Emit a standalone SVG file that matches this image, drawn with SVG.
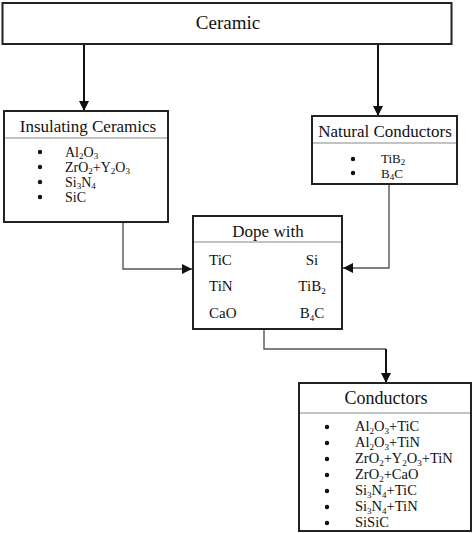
<svg xmlns="http://www.w3.org/2000/svg" width="474" height="533" viewBox="0 0 474 533">
<defs>
<marker id="arr" markerUnits="userSpaceOnUse" markerWidth="11" markerHeight="10" refX="10" refY="5" orient="auto">
<path d="M0,0 L10,5 L0,10 z" fill="#111"/>
</marker>
<style>
.box{fill:#fff;stroke:#222;stroke-width:2}
.div{stroke:#888;stroke-width:1.2}
.t{font-family:"Liberation Serif","Times New Roman",serif;fill:#111}
.title{font-size:17px;text-anchor:middle}
.item{font-size:14.5px}
.sub{font-size:9px}
.bul{fill:#111}
.dark{fill:none;stroke:#111;stroke-width:2}
.gray{fill:none;stroke:#555;stroke-width:1.4}
</style>
</defs>
<rect width="474" height="533" fill="#fff"/>
<g id="connectors">
<line class="dark" x1="84" y1="44" x2="84" y2="111" marker-end="url(#arr)"/>
<line class="dark" x1="378" y1="44" x2="378" y2="116" marker-end="url(#arr)"/>
<polyline class="gray" points="123,222 123,269 192,269" marker-end="url(#arr)"/>
<polyline class="gray" points="389,184 389,268 343,268" marker-end="url(#arr)"/>
<polyline class="gray" points="264,329 264,349 386,349"/>
<line class="dark" x1="386" y1="349" x2="386" y2="383" marker-end="url(#arr)"/>
</g>
<g id="ceramic">
<rect class="box" x="2.5" y="3" width="449" height="41"/>
<text class="t title" x="228" y="29" style="font-size:19px">Ceramic</text>
</g>
<g id="insulating">
<rect class="box" x="4" y="111" width="164" height="111"/>
<line class="div" x1="5" y1="138" x2="167" y2="138"/>
<text class="t title" x="88" y="132">Insulating Ceramics</text>
<g class="bul"><circle cx="40" cy="152" r="2.2"/><circle cx="40" cy="167" r="2.2"/><circle cx="40" cy="182" r="2.2"/><circle cx="40" cy="197" r="2.2"/></g>
<g class="t item" style="font-size:14px">
<text x="65" y="156.5">Al<tspan class="sub" dy="2">2</tspan><tspan dy="-2">O</tspan><tspan class="sub" dy="2">3</tspan></text>
<text x="65" y="171.5">ZrO<tspan class="sub" dy="2">2</tspan><tspan dy="-2">+Y</tspan><tspan class="sub" dy="2">2</tspan><tspan dy="-2">O</tspan><tspan class="sub" dy="2">3</tspan></text>
<text x="65" y="186.5">Si<tspan class="sub" dy="2">3</tspan><tspan dy="-2">N</tspan><tspan class="sub" dy="2">4</tspan></text>
<text x="65" y="201.5">SiC</text>
</g>
</g>
<g id="natural">
<rect class="box" x="312" y="116" width="145" height="68"/>
<line class="div" x1="313" y1="143" x2="456" y2="143"/>
<text class="t title" x="385" y="137">Natural Conductors</text>
<g class="bul"><circle cx="353" cy="159" r="2.2"/><circle cx="353" cy="173" r="2.2"/></g>
<g class="t item" style="font-size:13px">
<text x="381" y="163">TiB<tspan class="sub" dy="2">2</tspan></text>
<text x="381" y="178">B<tspan class="sub" dy="2">4</tspan><tspan dy="-2">C</tspan></text>
</g>
</g>
<g id="dope">
<rect class="box" x="193" y="216" width="149" height="113"/>
<line class="div" x1="194" y1="242" x2="341" y2="242"/>
<text class="t title" x="268" y="237">Dope with</text>
<g class="t item" style="font-size:15px">
<text x="209" y="265">TiC</text>
<text x="209" y="291">TiN</text>
<text x="209" y="318">CaO</text>
<text x="312" y="265" text-anchor="middle">Si</text>
<text x="312" y="291" text-anchor="middle">TiB<tspan class="sub" dy="3">2</tspan></text>
<text x="312" y="318" text-anchor="middle">B<tspan class="sub" dy="3">4</tspan><tspan dy="-3">C</tspan></text>
</g>
</g>
<g id="conductors">
<rect class="box" x="299" y="383" width="172" height="148"/>
<line class="div" x1="300" y1="413" x2="470" y2="413"/>
<text class="t title" x="386" y="404" style="font-size:18px">Conductors</text>
<g class="bul"><circle cx="327" cy="427" r="2.2"/><circle cx="327" cy="443" r="2.2"/><circle cx="327" cy="459" r="2.2"/><circle cx="327" cy="475" r="2.2"/><circle cx="327" cy="491" r="2.2"/><circle cx="327" cy="507" r="2.2"/><circle cx="327" cy="523" r="2.2"/></g>
<g class="t item">
<text x="355" y="431">Al<tspan class="sub" dy="2.5">2</tspan><tspan dy="-2.5">O</tspan><tspan class="sub" dy="2.5">3</tspan><tspan dy="-2.5">+TiC</tspan></text>
<text x="355" y="447">Al<tspan class="sub" dy="2.5">2</tspan><tspan dy="-2.5">O</tspan><tspan class="sub" dy="2.5">3</tspan><tspan dy="-2.5">+TiN</tspan></text>
<text x="355" y="463">ZrO<tspan class="sub" dy="2.5">2</tspan><tspan dy="-2.5">+Y</tspan><tspan class="sub" dy="2.5">2</tspan><tspan dy="-2.5">O</tspan><tspan class="sub" dy="2.5">3</tspan><tspan dy="-2.5">+TiN</tspan></text>
<text x="355" y="479">ZrO<tspan class="sub" dy="2.5">2</tspan><tspan dy="-2.5">+CaO</tspan></text>
<text x="355" y="495">Si<tspan class="sub" dy="2.5">3</tspan><tspan dy="-2.5">N</tspan><tspan class="sub" dy="2.5">4</tspan><tspan dy="-2.5">+TiC</tspan></text>
<text x="355" y="511">Si<tspan class="sub" dy="2.5">3</tspan><tspan dy="-2.5">N</tspan><tspan class="sub" dy="2.5">4</tspan><tspan dy="-2.5">+TiN</tspan></text>
<text x="355" y="527">SiSiC</text>
</g>
</g>
</svg>
